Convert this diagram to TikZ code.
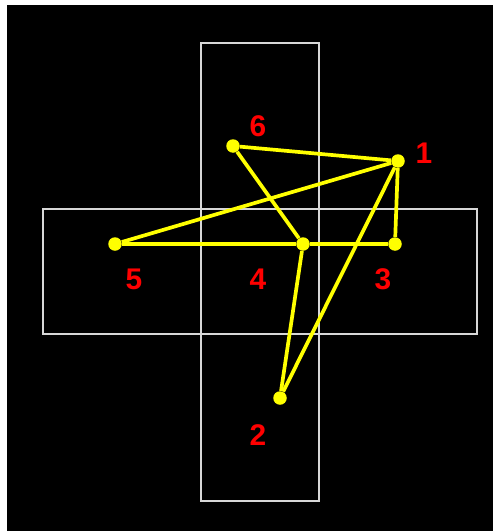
\documentclass[tikz,border=0pt]{standalone}
\usepackage{fontspec}
\setsansfont{Liberation Sans}
\usetikzlibrary{positioning}
\definecolor{colBack}{RGB}{0,0,0}
\definecolor{colFrame}{RGB}{215,215,215}
\definecolor{colEdge}{RGB}{255,255,0}
\definecolor{colLabel}{RGB}{255,0,0}
\tikzset{
  frame/.style={draw=colFrame, line width=0.6pt},
  vertex/.style={circle, fill=colEdge, inner sep=0pt, minimum size=0.27cm},
  edge/.style={draw=colEdge, line width=2.1pt},
  vlabel/.style={text=colLabel, font=\sffamily\bfseries\fontsize{17}{19}\selectfont, inner sep=0pt}
}
\begin{document}
\begin{tikzpicture}[x=0.02cm, y=-0.02cm]

  % background
  \fill[white] (0,0) rectangle (493,531);
  \fill[colBack] (7,5) rectangle (493,531);
  \useasboundingbox (0,0) rectangle (493,531);

  % cross of two boxes
  \draw[frame] (201,43) rectangle (319,501);
  \draw[frame] (43,209) rectangle (477,334);

  % points
  \node[vertex] (p1) at (398,161) {};
  \node[vertex] (p2) at (280,398) {};
  \node[vertex] (p3) at (395,244) {};
  \node[vertex] (p4) at (303,244) {};
  \node[vertex] (p5) at (115,244) {};
  \node[vertex] (p6) at (233,146) {};

  % edges
  \draw[edge] (p6) -- (p1);
  \draw[edge] (p6) -- (p4);
  \draw[edge] (p1) -- (p5);
  \draw[edge] (p1) -- (p3);
  \draw[edge] (p1) -- (p2);
  \draw[edge] (p5) -- (p4);
  \draw[edge] (p4) -- (p3);
  \draw[edge] (p4) -- (p2);

  % labels
  \node[vlabel] (l1) at (424,153) {1};
  \node[vlabel] (l2) at (258,435) {2};
  \node[vlabel] (l3) at (383,279) {3};
  \node[vlabel] (l4) at (258,279) {4};
  \node[vlabel] (l5) at (134,279) {5};
  \node[vlabel] (l6) at (258,126) {6};

\end{tikzpicture}
\end{document}
